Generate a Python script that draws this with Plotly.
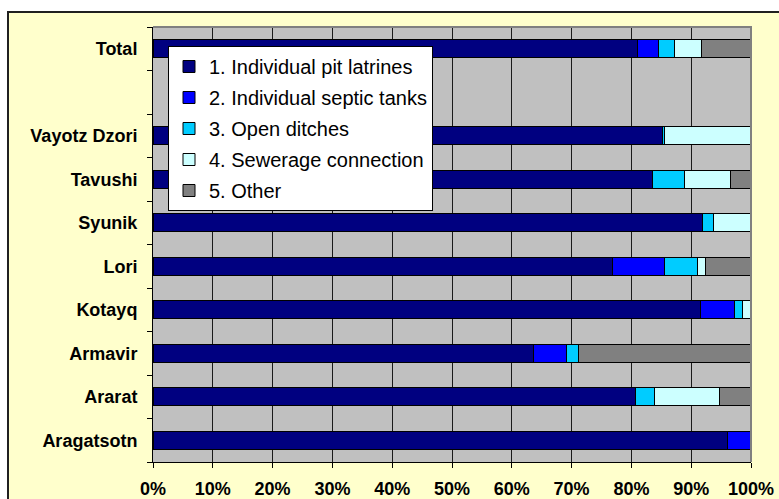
import plotly.graph_objects as go

# Regions listed bottom-to-top; the blank entry leaves a gap below "Total"
regions = ["Aragatsotn", "Ararat", "Armavir", "Kotayq", "Lori",
           "Syunik", "Tavushi", "Vayotz Dzori", " ", "Total"]

pit_latrines   = [96.0, 80.7, 63.7, 91.5, 76.9, 91.9, 83.5, 85.2, None, 81.0]
septic_tanks   = [4.0,  0.0,  5.4,  5.7,  8.7,  0.0,  0.0,  0.0,  None, 3.6]
open_ditches   = [0.0,  3.2,  2.1,  1.4,  5.4,  1.9,  5.3,  0.4,  None, 2.6]
sewerage       = [0.0,  10.9, 0.0,  1.4,  1.4,  6.2,  7.8,  14.4, None, 4.6]
other          = [0.0,  5.2,  28.8, 0.0,  7.6,  0.0,  3.4,  0.0,  None, 8.2]

series_names = ["1. Individual pit latrines", "2. Individual septic tanks",
                "3. Open ditches", "4. Sewerage connection", "5. Other"]
series_values = [pit_latrines, septic_tanks, open_ditches, sewerage, other]
series_colors = ["#000080", "#0000FF", "#00CCFF", "#CCFFFF", "#808080"]

x_ticks = [0, 10, 20, 30, 40, 50, 60, 70, 80, 90, 100]

FONT = "Liberation Sans, Arial, sans-serif"

fig = go.Figure()
for i, (name, vals, col) in enumerate(zip(series_names, series_values, series_colors)):
    fig.add_trace(go.Bar(
        y=regions, x=vals, name=name, orientation="h",
        marker=dict(color=col, line=dict(color="#000000", width=1)),
        legendgroup=f"g{i}",
    ))

W, H = 779, 499
L, R, T, B = 153, 28, 27, 37
pw, ph = W - L - R, H - T - B


def px_x(p):
    return (p - L) / pw


def px_y(p):
    return (H - B - p) / ph


frame_l, frame_t = 8, 12
shapes = [
    # white margin outside the chart frame
    dict(type="rect", xref="paper", yref="paper",
         x0=px_x(-20), x1=px_x(frame_l), y0=px_y(H + 20), y1=px_y(-20),
         fillcolor="white", line=dict(width=0), layer="above"),
    dict(type="rect", xref="paper", yref="paper",
         x0=px_x(-20), x1=px_x(W + 20), y0=px_y(frame_t), y1=px_y(-20),
         fillcolor="white", line=dict(width=0), layer="above"),
    # chart frame
    dict(type="rect", xref="paper", yref="paper",
         x0=px_x(frame_l), x1=px_x(W + 20), y0=px_y(H + 20), y1=px_y(frame_t),
         line=dict(color="#202020", width=2), layer="above"),
    # plot area border (top/right)
    dict(type="path", xref="paper", yref="paper",
         path="M 0 1 L 1 1 L 1 0", line=dict(color="#808080", width=2), layer="above"),
]

fig.update_layout(
    width=W, height=H,
    margin=dict(l=L, r=R, t=T, b=B, pad=0, autoexpand=False),
    barmode="stack", bargap=0.59,
    paper_bgcolor="#FFFFCC", plot_bgcolor="#C0C0C0",
    font=dict(family=FONT, color="#000000"),
    showlegend=True,
    legend=dict(
        x=px_x(168), y=px_y(46), xanchor="left", yanchor="top",
        bgcolor="#FFFFFF", bordercolor="#000000", borderwidth=1,
        font=dict(size=20, family=FONT),
        traceorder="grouped", tracegroupgap=2,
    ),
    shapes=shapes,
)

fig.update_xaxes(
    range=[0, 100], tickvals=x_ticks, ticktext=[f"{v}%" for v in x_ticks],
    showgrid=True, gridcolor="#1a1a1a", gridwidth=1,
    showline=True, linecolor="#000000", linewidth=1,
    ticks="outside", ticklen=5, tickcolor="#000000",
    tickfont=dict(size=18, family=FONT, weight="bold"),
    ticklabelstandoff=5, zeroline=False, fixedrange=True, automargin=False,
)
fig.update_yaxes(
    type="category", categoryorder="array", categoryarray=regions,
    range=[-0.5, len(regions) - 0.5],
    showgrid=False, showline=True, linecolor="#000000", linewidth=1,
    ticks="outside", ticklen=5, tickcolor="#000000", tickson="boundaries",
    tickfont=dict(size=18, family=FONT, weight="bold"),
    ticklabelstandoff=11, fixedrange=True, automargin=False,
)

fig.write_html("out.html")
